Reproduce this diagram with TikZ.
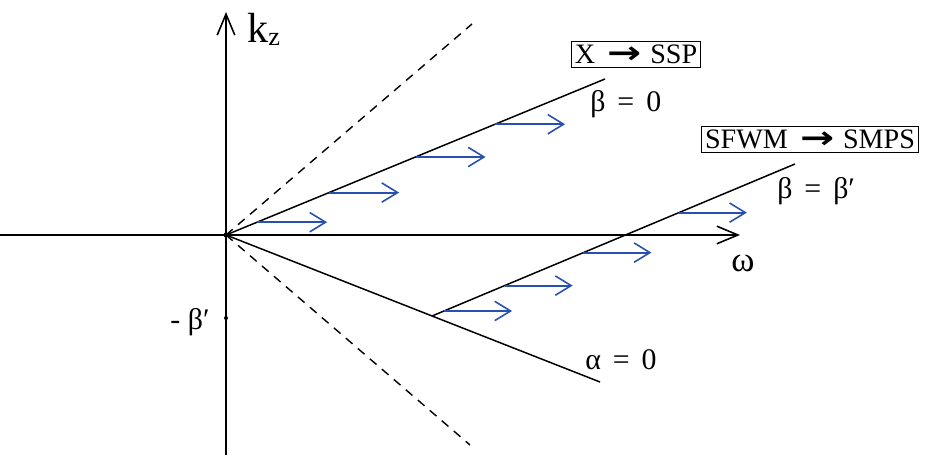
\documentclass[tikz,border=0pt]{standalone}
\usepackage{fontspec}
\usepackage{graphicx}
\setmainfont{Liberation Serif}
\newfontfamily\arrowfont{DejaVu Sans}
\usetikzlibrary{arrows.meta, calc}
\definecolor{shiftblue}{RGB}{40,80,175}
\newcommand{\bigarrow}{\hspace{0.45em}{\arrowfont\bfseries\scalebox{1.45}[1.1]{→}}\hspace{0.3em}}
\newcommand{\eqsign}{\hspace{0.4em}=\hspace{0.4em}}
\tikzstyle{axisline} = [
    line width=0.9pt,
    -{Straight Barb[length=12pt,width=10pt,line width=0.9pt]}
]
\tikzstyle{branch} = [line width=0.85pt]
\tikzstyle{cone} = [line width=0.8pt, dash pattern=on 5pt off 4pt]
\tikzstyle{shiftarrow} = [
    line width=1.1pt,
    draw=shiftblue,
    -{Straight Barb[length=9pt,width=11pt,line width=0.9pt]}
]
\tikzstyle{eqlabel} = [
    inner sep=0pt,
    font=\fontsize{17}{19}\selectfont
]
\tikzstyle{procbox} = [
    rectangle,
    draw=black,
    line width=0.8pt,
    inner sep=2pt,
    font=\fontsize{16}{18}\selectfont
]

\begin{document}
\begin{tikzpicture}
\useasboundingbox (-4.52,-4.46) rectangle (14.16,4.70);

\coordinate (O) at (0,0);
\coordinate (kzStart) at (0,-4.40);
\coordinate (kzEnd) at (0,4.46);
\coordinate (wStart) at (-4.52,0);
\coordinate (wEnd) at (10.28,0);
\coordinate (dashUp) at (4.92,4.22);
\coordinate (dashDown) at (4.88,-4.20);
\coordinate (bZero) at (7.58,3.12);
\coordinate (aZero) at (7.48,-2.94);
\coordinate (bStart) at ($(O)!0.551!(aZero)$);
\coordinate (bPrime) at (11.38,1.42);
\coordinate (tick) at (0,-1.66);

% Axes
\draw [axisline] (kzStart) -- (kzEnd);
\draw [axisline] (wStart) -- (wEnd);

% Light cone
\draw [cone] (O) -- (dashUp);
\draw [cone] (O) -- (dashDown);

% Branches
\draw [branch] (O) -- (bZero);
\draw [branch] (O) -- (aZero);
\draw [branch] (bStart) -- (bPrime);

\fill (O) circle (0.05);
\fill (tick) circle (0.04);

% Shifts
\foreach \f in {0.082,0.272,0.5,0.71}
  \draw [shiftarrow] ($(O)!\f!(bZero)$) -- ++(1.4,0);
\foreach \f in {0.033,0.2,0.417,0.68}
  \draw [shiftarrow] ($(bStart)!\f!(bPrime)$) -- ++(1.36,0);

% Labels
\node (kz) [eqlabel, anchor=base west] at (0.42,3.84)
{\fontsize{24}{26}\selectfont k\raisebox{-0.15ex}{\fontsize{15}{17}\selectfont z}};
\node (omega) [eqlabel, font=\fontsize{20}{22}\selectfont] at (10.34,-0.56) {ω};
\node (betaZero) [eqlabel, anchor=base west] at (7.28,2.46) {β\eqsign 0};
\node (betaPrime) [eqlabel, anchor=base west] at (11.02,0.72) {β\eqsign β′};
\node (alphaZero) [eqlabel, anchor=base west] at (7.18,-2.70) {α\eqsign 0};
\node (minusBeta) [eqlabel, anchor=base east] at (-0.32,-1.90) {-\hspace{0.25em}β′};

\node (ssp) [procbox] at (8.2,3.61) {X\bigarrow SSP};
\node (smps) [procbox] at (11.68,1.91) {SFWM\bigarrow SMPS};

\end{tikzpicture}
\end{document}
